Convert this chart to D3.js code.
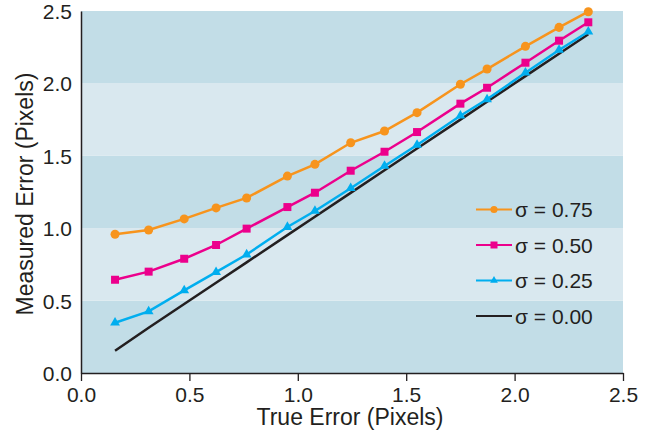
<!DOCTYPE html>
<html><head><meta charset="utf-8">
<script src="https://cdn.jsdelivr.net/npm/d3@7"></script>
<style>body{margin:0;background:#fff}svg{display:block}text{font-family:"Liberation Sans",Arial,sans-serif;fill:#231f20}</style>
</head><body><svg id="c" width="664" height="430"></svg>
<script>
const trueError = [0.157,0.312,0.476,0.623,0.764,0.952,1.079,1.244,1.400,1.550,1.750,1.873,2.050,2.205,2.340];
const sigma075 = [0.958,0.988,1.064,1.140,1.209,1.360,1.441,1.590,1.671,1.798,1.994,2.099,2.256,2.387,2.495];
const sigma050 = [0.644,0.700,0.789,0.884,0.997,1.146,1.245,1.397,1.528,1.664,1.860,1.970,2.143,2.295,2.422];
const sigma025 = [0.347,0.426,0.571,0.697,0.818,1.008,1.119,1.276,1.430,1.575,1.777,1.890,2.074,2.231,2.357];
const sigma000 = [0.154,0.312,0.476,0.623,0.764,0.952,1.079,1.244,1.400,1.550,1.750,1.873,2.050,2.205,2.340];
const seriesNames = ["σ = 0.75","σ = 0.50","σ = 0.25","σ = 0.00"];
const xTicks = [0,0.5,1,1.5,2,2.5];
const yTicks = [0,0.5,1,1.5,2,2.5];
const bands = [0,0.5,1,1.5,2];

const svg = d3.select("#c");
const L=81,R=623,T=11,B=373;
const x = d3.scaleLinear().domain([0,2.5]).range([L,R]);
const y = d3.scaleLinear().domain([0,2.5]).range([B,T]);

svg.selectAll("rect.band").data(bands).enter().append("rect")
  .attr("x",L).attr("width",R-L)
  .attr("y",d=>y(d+0.5)).attr("height",d=>y(d)-y(d+0.5))
  .attr("fill",(d,i)=>i%2===0?"#c2dde7":"#d9e8ef");

const series = [
  {name:seriesNames[0],vals:sigma075,color:"#f7941d",marker:"circle"},
  {name:seriesNames[1],vals:sigma050,color:"#ec008c",marker:"square"},
  {name:seriesNames[2],vals:sigma025,color:"#00aeef",marker:"triangle"},
  {name:seriesNames[3],vals:sigma000,color:"#231f20",marker:null}
];
const line = d3.line().x(d=>x(d[0])).y(d=>y(d[1]));
const sym = {circle:d3.symbol(d3.symbolCircle,64), square:d3.symbol(d3.symbolSquare,64), triangle:d3.symbol(d3.symbolTriangle,42)};
const symL = {circle:d3.symbol(d3.symbolCircle,40), square:d3.symbol(d3.symbolSquare,49), triangle:d3.symbol(d3.symbolTriangle,26)};

series.slice().reverse().forEach(s=>{
  const pts = trueError.map((t,i)=>[t,s.vals[i]]);
  svg.append("path").attr("d",line(pts)).attr("fill","none").attr("stroke",s.color).attr("stroke-width",2.5);
  if(s.marker){
    svg.selectAll(null).data(pts).enter().append("path")
      .attr("d",sym[s.marker]()).attr("fill",s.color)
      .attr("transform",d=>`translate(${x(d[0])},${y(d[1])})`);
  }
});

// axes
const xa = svg.append("g").attr("transform",`translate(0,${B})`)
  .call(d3.axisBottom(x).tickValues(xTicks).tickFormat(d3.format(".1f")).tickSize(8).tickSizeOuter(0));
xa.select(".domain").attr("stroke","#231f20").attr("stroke-width",1.5);
xa.selectAll(".tick line").attr("stroke","#231f20").attr("stroke-width",1.3);
xa.selectAll(".tick text").attr("y",29).attr("dy",0).style("font-size","21px").attr("fill","#231f20");

const ya = svg.append("g").attr("transform",`translate(${L},0)`)
  .call(d3.axisLeft(y).tickValues(yTicks).tickFormat(d3.format(".1f")).tickSize(0).tickSizeOuter(0).tickPadding(9));
ya.select(".domain").attr("stroke","#231f20").attr("stroke-width",1.5);
ya.selectAll(".tick text").style("font-size","21px").attr("fill","#231f20").attr("dy","0.36em");

svg.append("text").attr("x",(L+R)/2-2).attr("y",425).attr("text-anchor","middle")
  .style("font-size","23px").text("True Error (Pixels)");
svg.append("text").attr("transform",`translate(33,${(T+B)/2+2}) rotate(-90)`).attr("text-anchor","middle")
  .style("font-size","23px").text("Measured Error (Pixels)");

// legend
const lg = svg.append("g");
series.forEach((s,i)=>{
  const cy = 209.5 + i*35.5;
  lg.append("line").attr("x1",476).attr("x2",512).attr("y1",cy).attr("y2",cy).attr("stroke",s.color).attr("stroke-width",2.2);
  if(s.marker) lg.append("path").attr("d",symL[s.marker]()).attr("fill",s.color).attr("transform",`translate(494,${cy})`);
  lg.append("text").attr("x",515).attr("y",cy).attr("dy","0.36em").style("font-size","21px").text(s.name);
});
</script></body></html>
